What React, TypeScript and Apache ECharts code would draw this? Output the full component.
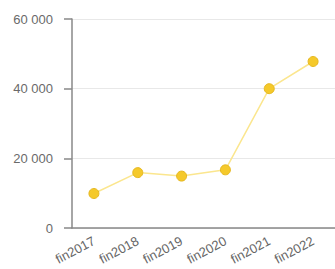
import React, { useEffect, useRef } from "react";
import * as echarts from "echarts";

const categories = ["fin2017", "fin2018", "fin2019", "fin2020", "fin2021", "fin2022"];
const values = [9900, 15900, 14900, 16700, 40000, 47800];
const yTicks = { min: 0, max: 60000, interval: 20000 };

export default function App() {
  const ref = useRef<HTMLDivElement>(null);
  useEffect(() => {
    document.body.style.margin = "0";
    const chart = echarts.init(ref.current!, null, { renderer: "svg" });
    chart.setOption({
      animation: false,
      grid: { left: 72, top: 19, width: 264, height: 209 },
      xAxis: {
        type: "category",
        data: categories,
        boundaryGap: true,
        axisLine: { lineStyle: { color: "#888", width: 1.5 } },
        axisTick: { alignWithLabel: true, length: 6, lineStyle: { color: "#888", width: 1.5 } },
        axisLabel: {
          rotate: 28,
          color: "#666",
          fontSize: 13,
          fontFamily: "Liberation Sans, Arial, sans-serif",
          margin: 12,
        },
      },
      yAxis: {
        type: "value",
        min: yTicks.min,
        max: yTicks.max,
        interval: yTicks.interval,
        axisLine: { show: true, lineStyle: { color: "#888", width: 1.5 } },
        axisTick: { show: true, length: 8, lineStyle: { color: "#888", width: 1.5 } },
        splitLine: { lineStyle: { color: "#e8e8e8" } },
        axisLabel: {
          color: "#6a6a6a",
          fontSize: 13,
          fontFamily: "Liberation Sans, Arial, sans-serif",
          margin: 19,
          formatter: (v: number) => String(v).replace(/\B(?=(\d{3})+(?!\d))/g, " "),
        },
      },
      series: [
        {
          type: "line",
          data: values,
          symbol: "circle",
          symbolSize: 10,
          lineStyle: { color: "#fbe68e", width: 1.5 },
          itemStyle: { color: "#f5c92a", borderColor: "#e6b820", borderWidth: 1 },
        },
      ],
    });
    return () => chart.dispose();
  }, []);
  return <div ref={ref} style={{ width: 335, height: 269 }} />;
}
